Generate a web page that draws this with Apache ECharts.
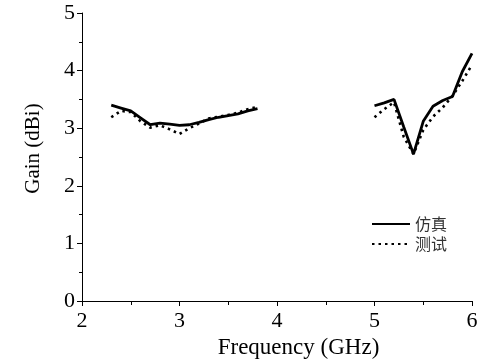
<!DOCTYPE html>
<html><head><meta charset="utf-8">
<script src="https://cdn.jsdelivr.net/npm/echarts@6/dist/echarts.min.js"></script>
<style>html,body{margin:0;padding:0;background:#fff}#c{width:500px;height:361px}</style>
</head><body><div id="c"></div>
<script>
const freqs1 = [2.3,2.4,2.5,2.6,2.7,2.8,2.9,3.0,3.1,3.2,3.3,3.4,3.5,3.6,3.7,3.8];
const sim1   = [3.40,3.35,3.30,3.18,3.06,3.09,3.07,3.05,3.06,3.10,3.15,3.19,3.22,3.25,3.30,3.34];
const meas1  = [3.19,3.30,3.28,3.12,3.01,3.05,2.98,2.90,3.00,3.08,3.17,3.20,3.23,3.27,3.33,3.37];
const freqs2 = [5.0,5.1,5.2,5.3,5.4,5.5,5.6,5.7,5.8,5.9,6.0];
const sim2   = [3.39,3.44,3.50,3.02,2.55,3.12,3.38,3.48,3.55,3.98,4.30];
const meas2  = [3.19,3.33,3.45,2.85,2.55,2.97,3.20,3.36,3.56,3.82,4.10];
const seriesNames = ['仿真','测试'];
const xTicks = {min:2, max:6, interval:1};
const yTicks = {min:0, max:5, interval:1};

function build(fa, va, fb, vb){
  const d = fa.map((f,i)=>[f, va[i]]);
  d.push([4.4, null]);
  fb.forEach((f,i)=>d.push([f, vb[i]]));
  return d;
}
const font = '"Liberation Serif","Times New Roman",serif';
const chart = echarts.init(document.getElementById('c'));
chart.setOption({
  animation:false,
  grid:{left:82,right:28,top:13,bottom:60,containLabel:false,outerBoundsMode:'none'},
  legend:{
    orient:'vertical', left:366, top:211, itemWidth:38, itemHeight:10, itemGap:4,
    itemStyle:{opacity:0},
    textStyle:{fontFamily:'"Noto Sans CJK SC",sans-serif', fontSize:16, color:'#333'},
    data:seriesNames
  },
  xAxis:{
    type:'value', min:xTicks.min, max:xTicks.max, interval:xTicks.interval,
    name:'Frequency (GHz)', nameLocation:'middle', nameGap:29,
    nameTextStyle:{fontFamily:font, fontSize:23, color:'#000', padding:[0,0,0,43]},
    axisLine:{lineStyle:{color:'#000',width:1}},
    axisTick:{show:true, inside:false, length:5, lineStyle:{color:'#000'}},
    minorTick:{show:true, splitNumber:2, length:4, lineStyle:{color:'#000'}},
    axisLabel:{fontFamily:font, fontSize:22, color:'#000', margin:9},
    splitLine:{show:false}
  },
  yAxis:{
    type:'value', min:yTicks.min, max:yTicks.max, interval:yTicks.interval,
    name:'Gain (dBi)', nameLocation:'middle', nameGap:38, nameRotate:90,
    nameTextStyle:{fontFamily:font, fontSize:21, color:'#000', padding:[0,0,0,17]},
    axisLine:{show:true, lineStyle:{color:'#000',width:1}},
    axisTick:{show:true, inside:false, length:5, lineStyle:{color:'#000'}},
    minorTick:{show:true, splitNumber:2, length:3, lineStyle:{color:'#000'}},
    axisLabel:{fontFamily:font, fontSize:22, color:'#000', margin:7},
    splitLine:{show:false}
  },
  series:[
    {name:seriesNames[0], type:'line', symbol:'none', connectNulls:false,
     data:build(freqs1, sim1, freqs2, sim2),
     lineStyle:{color:'#000', width:2.8}, itemStyle:{color:'#000'}},
    {name:seriesNames[1], type:'line', symbol:'none', connectNulls:false,
     data:build(freqs1, meas1, freqs2, meas2),
     lineStyle:{color:'#000', width:2.6, type:[2.5,4], cap:'butt'}, itemStyle:{color:'#000'}}
  ]
});
</script></body></html>
